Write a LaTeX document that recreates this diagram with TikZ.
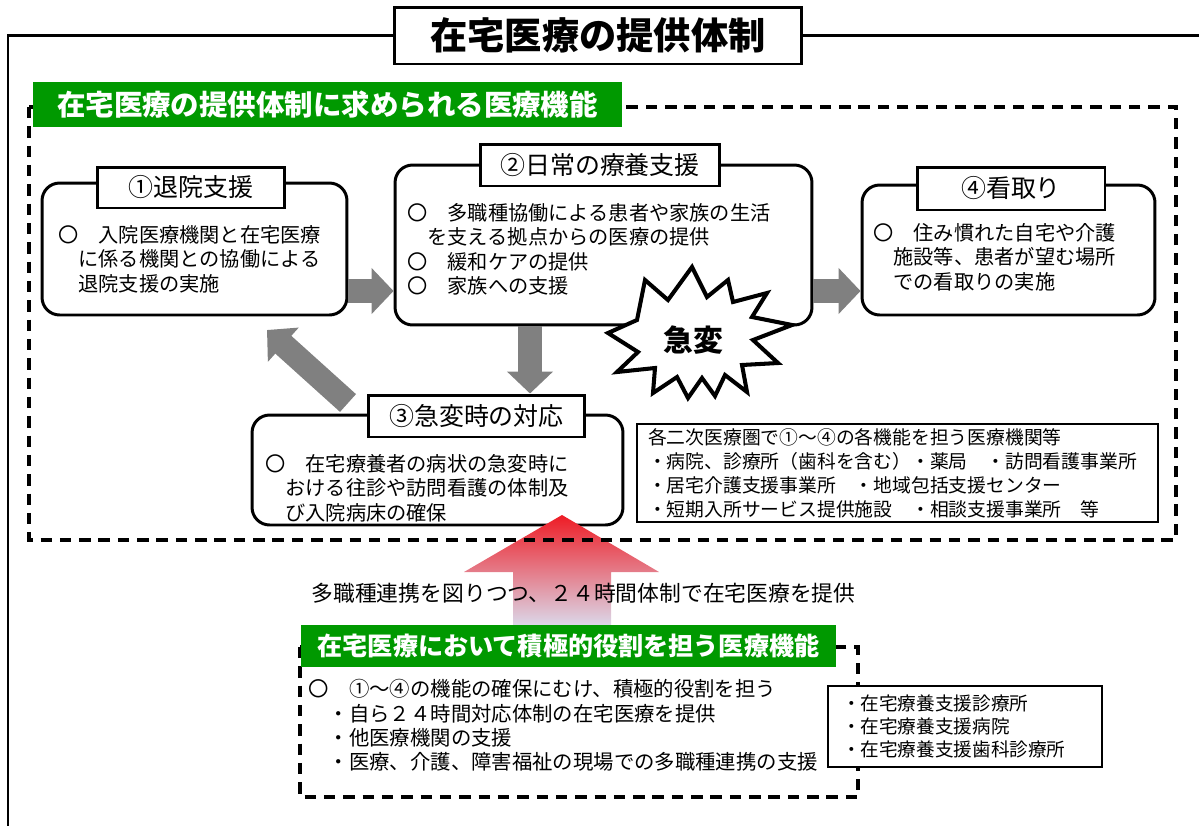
\documentclass[tikz,border=0pt]{standalone}
\usepackage{fontspec}
\setmainfont{Noto Sans CJK JP}
\usetikzlibrary{arrows.meta}
\definecolor{boxgreen}{RGB}{0,153,0}
\definecolor{flowgray}{RGB}{128,128,128}
\definecolor{alertred}{RGB}{238,28,37}
\definecolor{alertpink}{RGB}{222,130,150}
\definecolor{paleblue}{RGB}{218,227,245}

\begin{document}
\begin{tikzpicture}[
x=0.02cm, y=-0.02cm,
frame/.style={line width=1.7pt},
title/.style={draw, line width=1.7pt, fill=white, minimum width=8.16cm, minimum height=1.14cm, font=\fontsize{21.2pt}{24pt}\selectfont\bfseries},
band/.style={fill=boxgreen, text=white, inner sep=0pt},
area/.style={line width=2pt, dash pattern=on 6.5pt off 4.5pt},
card/.style={draw, line width=1.7pt, rounded corners=10pt, fill=white},
tag/.style={draw, line width=1.7pt, fill=white, inner sep=0pt, font=\fontsize{14.2pt}{16pt}\selectfont},
body/.style={align=left, inner sep=0pt, anchor=north west, font=\fontsize{11.5pt}{13.9pt}\selectfont},
list/.style={draw, line width=1.1pt, fill=white, align=left, inner ysep=0pt},
flow/.style={draw=flowgray, line width=13.6pt, -{Triangle[length=12.5pt,width=25.5pt]}}
]

\useasboundingbox (0,0) rectangle (1199,825);

\node[title] (T) at (598,35.5)
{在宅医療の提供体制};

\draw[frame] (8,826) |- (T.west);
\draw[frame] (T.east) -- (1200,35.5);

\node[card, minimum width=6.1cm, minimum height=2.64cm] (n1) at (194.5,249) {};
\node[tag, minimum width=3.76cm, minimum height=0.82cm] (h1) at (191,187.5)
{①退院支援};

\node[card, minimum width=8.34cm, minimum height=3.2cm] (n2) at (603.5,245) {};
\node[tag, minimum width=4.8cm, minimum height=0.84cm] (h2) at (600,165)
{②日常の療養支援};

\node[card, minimum width=5.86cm, minimum height=2.6cm] (n4) at (1008.5,250) {};
\node[tag, minimum width=3.76cm, minimum height=0.86cm] (h4) at (1011,188.5)
{④看取り};

\node[card, minimum width=7.42cm, minimum height=2.2cm] (n3) at (437.5,470) {};
\node[tag, minimum width=4.34cm, minimum height=0.84cm] (h3) at (476.5,416)
{③急変時の対応};

\node[body] (t1) at (58,225)
{〇　入院医療機関と在宅医療\\\hspace*{1em}に係る機関との協働による\\\hspace*{1em}退院支援の実施};

\node[body] (t2) at (407,203)
{〇　多職種協働による患者や家族の生活\\\hspace*{1em}を支える拠点からの医療の提供\\〇　緩和ケアの提供\\〇　家族への支援};

\node[body] (t4) at (873,223)
{〇　住み慣れた自宅や介護\\\hspace*{1em}施設等、患者が望む場所\\\hspace*{1em}での看取りの実施};

\node[body] (t3) at (265,454)
{〇　在宅療養者の病状の急変時に\\\hspace*{1em}おける往診や訪問看護の体制及\\\hspace*{1em}び入院病床の確保};

\draw[line width=2.3pt, fill=white] (692,267) -- (707,297) -- (728,280) -- (733,302) -- (767,293) -- (752,317) -- (792,325) -- (753,340) -- (778,363) -- (742,365) -- (747,392) -- (725,375) -- (715,396) -- (702,378) -- (688,398) -- (677,377) -- (653,393) -- (655,368) -- (617,372) -- (638,352) -- (608,333) -- (637,320) -- (645,280) -- (668,300) -- cycle;
\node[font=\fontsize{17pt}{20pt}\selectfont\bfseries] (alert) at (693,340)
{急変};

\coordinate (r12) at (0,291);
\coordinate (c23) at (530,0);
\coordinate (c31) at (348,403);
\coordinate (c13) at (267,330);

\draw[flow] (n1.east |- r12) -- (n2.west |- r12);
\draw[flow] (n2.east |- r12) -- (n4.west |- r12);
\draw[flow] (n2.south -| c23) -- (h3.north -| c23);
\draw[flow] (c31) -- (c13);

\node[list, text width=9.98cm, inner xsep=0.22cm, minimum height=1.96cm, font=\fontsize{10.7pt}{13.6pt}\selectfont] (org) at (897.5,473)
{各二次医療圏で①～④の各機能を担う医療機関等\\・病院、診療所（歯科を含む）・薬局　・訪問看護事業所\\・居宅介護支援事業所　・地域包括支援センター\\・短期入所サービス提供施設　・相談支援事業所　等};

\shade[top color=alertred, middle color=alertpink, bottom color=paleblue] (562,515) -- (659,572) -- (611,572) -- (611,632) -- (513,632) -- (513,572) -- (464,572) -- cycle;

\draw[area] (29,107) rectangle (1176,540);

\node[band, minimum width=11.78cm, minimum height=0.9cm, font=\fontsize{16.2pt}{18pt}\selectfont\bfseries] (g1) at (327.5,104.5)
{在宅医療の提供体制に求められる医療機能};

\node[font=\fontsize{12.4pt}{14pt}\selectfont] (mid) at (583.5,593)
{多職種連携を図りつつ、２４時間体制で在宅医療を提供};

\draw[area] (300,647) rectangle (858,797);

\node[band, minimum width=10.7cm, minimum height=0.84cm, font=\fontsize{14.3pt}{16pt}\selectfont\bfseries] (g2) at (568.5,646)
{在宅医療において積極的役割を担う医療機能};

\node[body, font=\fontsize{11.6pt}{13.9pt}\selectfont] (t5) at (308,679)
{〇　①～④の機能の確保にむけ、積極的役割を担う\\\hspace*{1em}・自ら２４時間対応体制の在宅医療を提供\\\hspace*{1em}・他医療機関の支援\\\hspace*{1em}・医療、介護、障害福祉の現場での多職種連携の支援};

\node[list, text width=4.92cm, inner xsep=0.28cm, minimum height=1.62cm, font=\fontsize{10.6pt}{13pt}\selectfont] (home) at (965,726.5)
{・在宅療養支援診療所\\・在宅療養支援病院\\・在宅療養支援歯科診療所};

\end{tikzpicture}
\end{document}
